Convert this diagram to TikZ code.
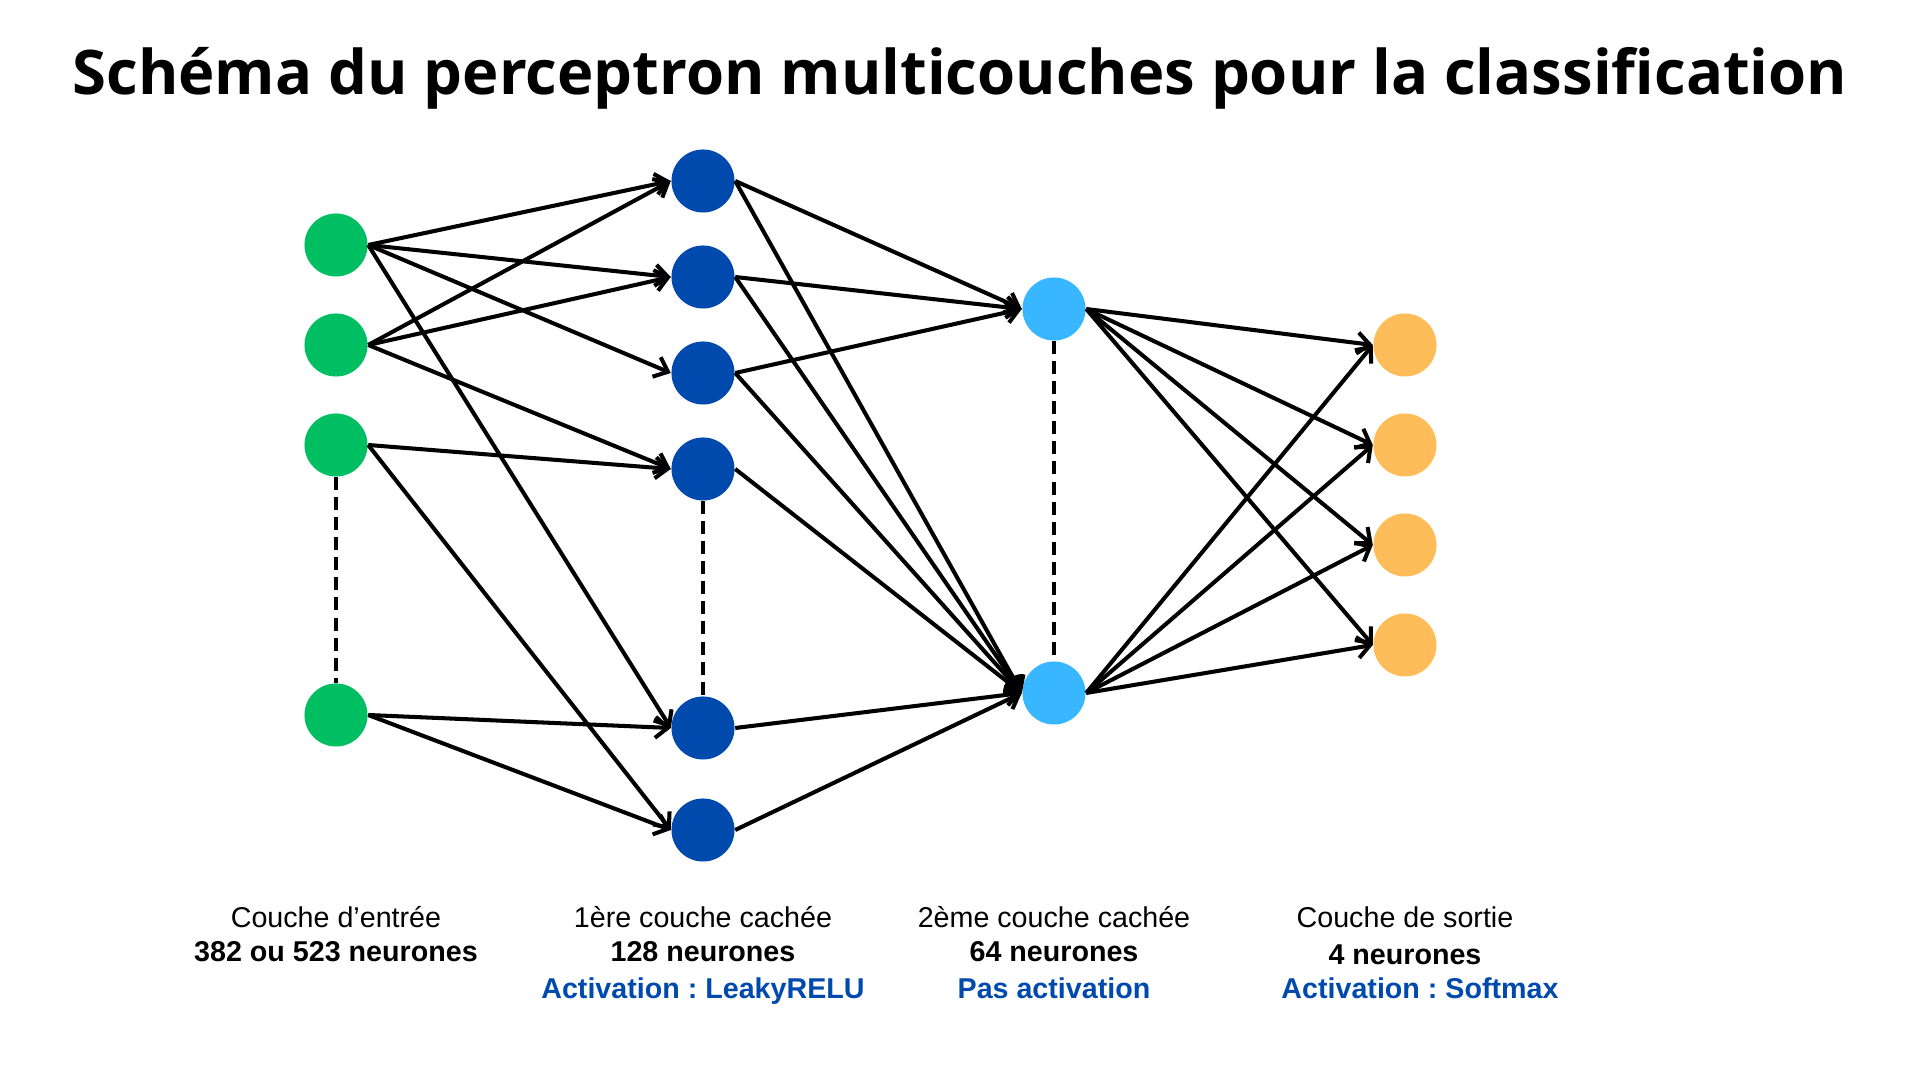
\documentclass[tikz,border=0pt]{standalone}
\usepackage{fontspec}
\setmainfont{Liberation Sans}
\newfontfamily\titlefont{Open Sans}
\usetikzlibrary{arrows.meta}

\definecolor{ingreen}{HTML}{00BF63}
\definecolor{hiddenblue}{HTML}{004AAD}
\definecolor{hiddensky}{HTML}{38B6FF}
\definecolor{outorange}{HTML}{FFBD59}
\definecolor{captionblue}{HTML}{004AAD}

\frenchspacing

\begin{document}
\begin{tikzpicture}[x=0.01cm, y=-0.01cm,
  neuron/.style={circle, minimum size=0.63cm, inner sep=0pt, draw=none},
  link/.style={line width=1.15pt, -{Straight Barb[length=3.5pt,width=6pt]}},
  gap/.style={line width=1.15pt, dash pattern=on 3.7pt off 2pt},
  caption/.style={anchor=base, inner sep=0pt, font=\fontsize{8.15pt}{10pt}\selectfont},
  capbold/.style={caption, font=\fontsize{8.15pt}{10pt}\selectfont\bfseries},
  capblue/.style={capbold, text=captionblue}
]
\useasboundingbox[fill=white] (0,0) rectangle (1920,1080);

% title
\node[anchor=base, inner sep=0pt,
      font=\titlefont\bfseries\fontsize{17.5pt}{21pt}\selectfont] (title) at (960,95)
  {Schéma du perceptron multicouches pour la classification};

% input layer
\foreach \n/\y in {1/245, 2/345, 3/445, 4/715}
  \node[neuron, fill=ingreen] (i\n) at (336,\y) {};
% first hidden layer
\foreach \n/\y in {1/181, 2/277, 3/373, 4/469, 5/728, 6/830}
  \node[neuron, fill=hiddenblue] (h\n) at (703,\y) {};
% second hidden layer
\foreach \n/\y in {1/309, 2/693}
  \node[neuron, fill=hiddensky] (k\n) at (1054,\y) {};
% output layer
\foreach \n/\y in {1/345, 2/445, 3/545, 4/645}
  \node[neuron, fill=outorange] (o\n) at (1405,\y) {};

% elided neurons
\draw[gap] (i3.south) -- (i4.north);
\draw[gap] (h4.south) -- (h5.north);
\draw[gap] (k1.south) -- (k2.north);

% input -> first hidden
\foreach \a/\b in {1/1, 1/2, 1/3, 1/5, 2/1, 2/2, 2/4, 3/4, 3/6, 4/5, 4/6}
  \draw[link] (i\a.east) -- (h\b.west);
% first hidden -> second hidden
\foreach \a/\b in {1/1, 1/2, 2/1, 2/2, 3/1, 3/2, 4/2, 5/2, 6/2}
  \draw[link] (h\a.east) -- (k\b.west);
% second hidden -> output
\foreach \a in {1,2}
  \foreach \b in {1,2,3,4}
    \draw[link] (k\a.east) -- (o\b.west);

% layer captions
\node[caption] (c1a) at (336,928) {Couche d’entrée};
\node[capbold] (c1b) at (336,962) {382 ou 523 neurones};

\node[caption] (c2a) at (703,928) {1ère couche cachée};
\node[capbold] (c2b) at (703,962) {128 neurones};
\node[capblue] (c2c) at (703,999) {Activation : LeakyRELU};

\node[caption] (c3a) at (1054,928) {2ème couche cachée};
\node[capbold] (c3b) at (1054,962) {64 neurones};
\node[capblue] (c3c) at (1054,999) {Pas activation};

\node[caption] (c4a) at (1405,928) {Couche de sortie};
\node[capbold] (c4b) at (1405,965) {4 neurones};
\node[capblue] (c4c) at (1420,999) {Activation : Softmax};
\end{tikzpicture}
\end{document}
